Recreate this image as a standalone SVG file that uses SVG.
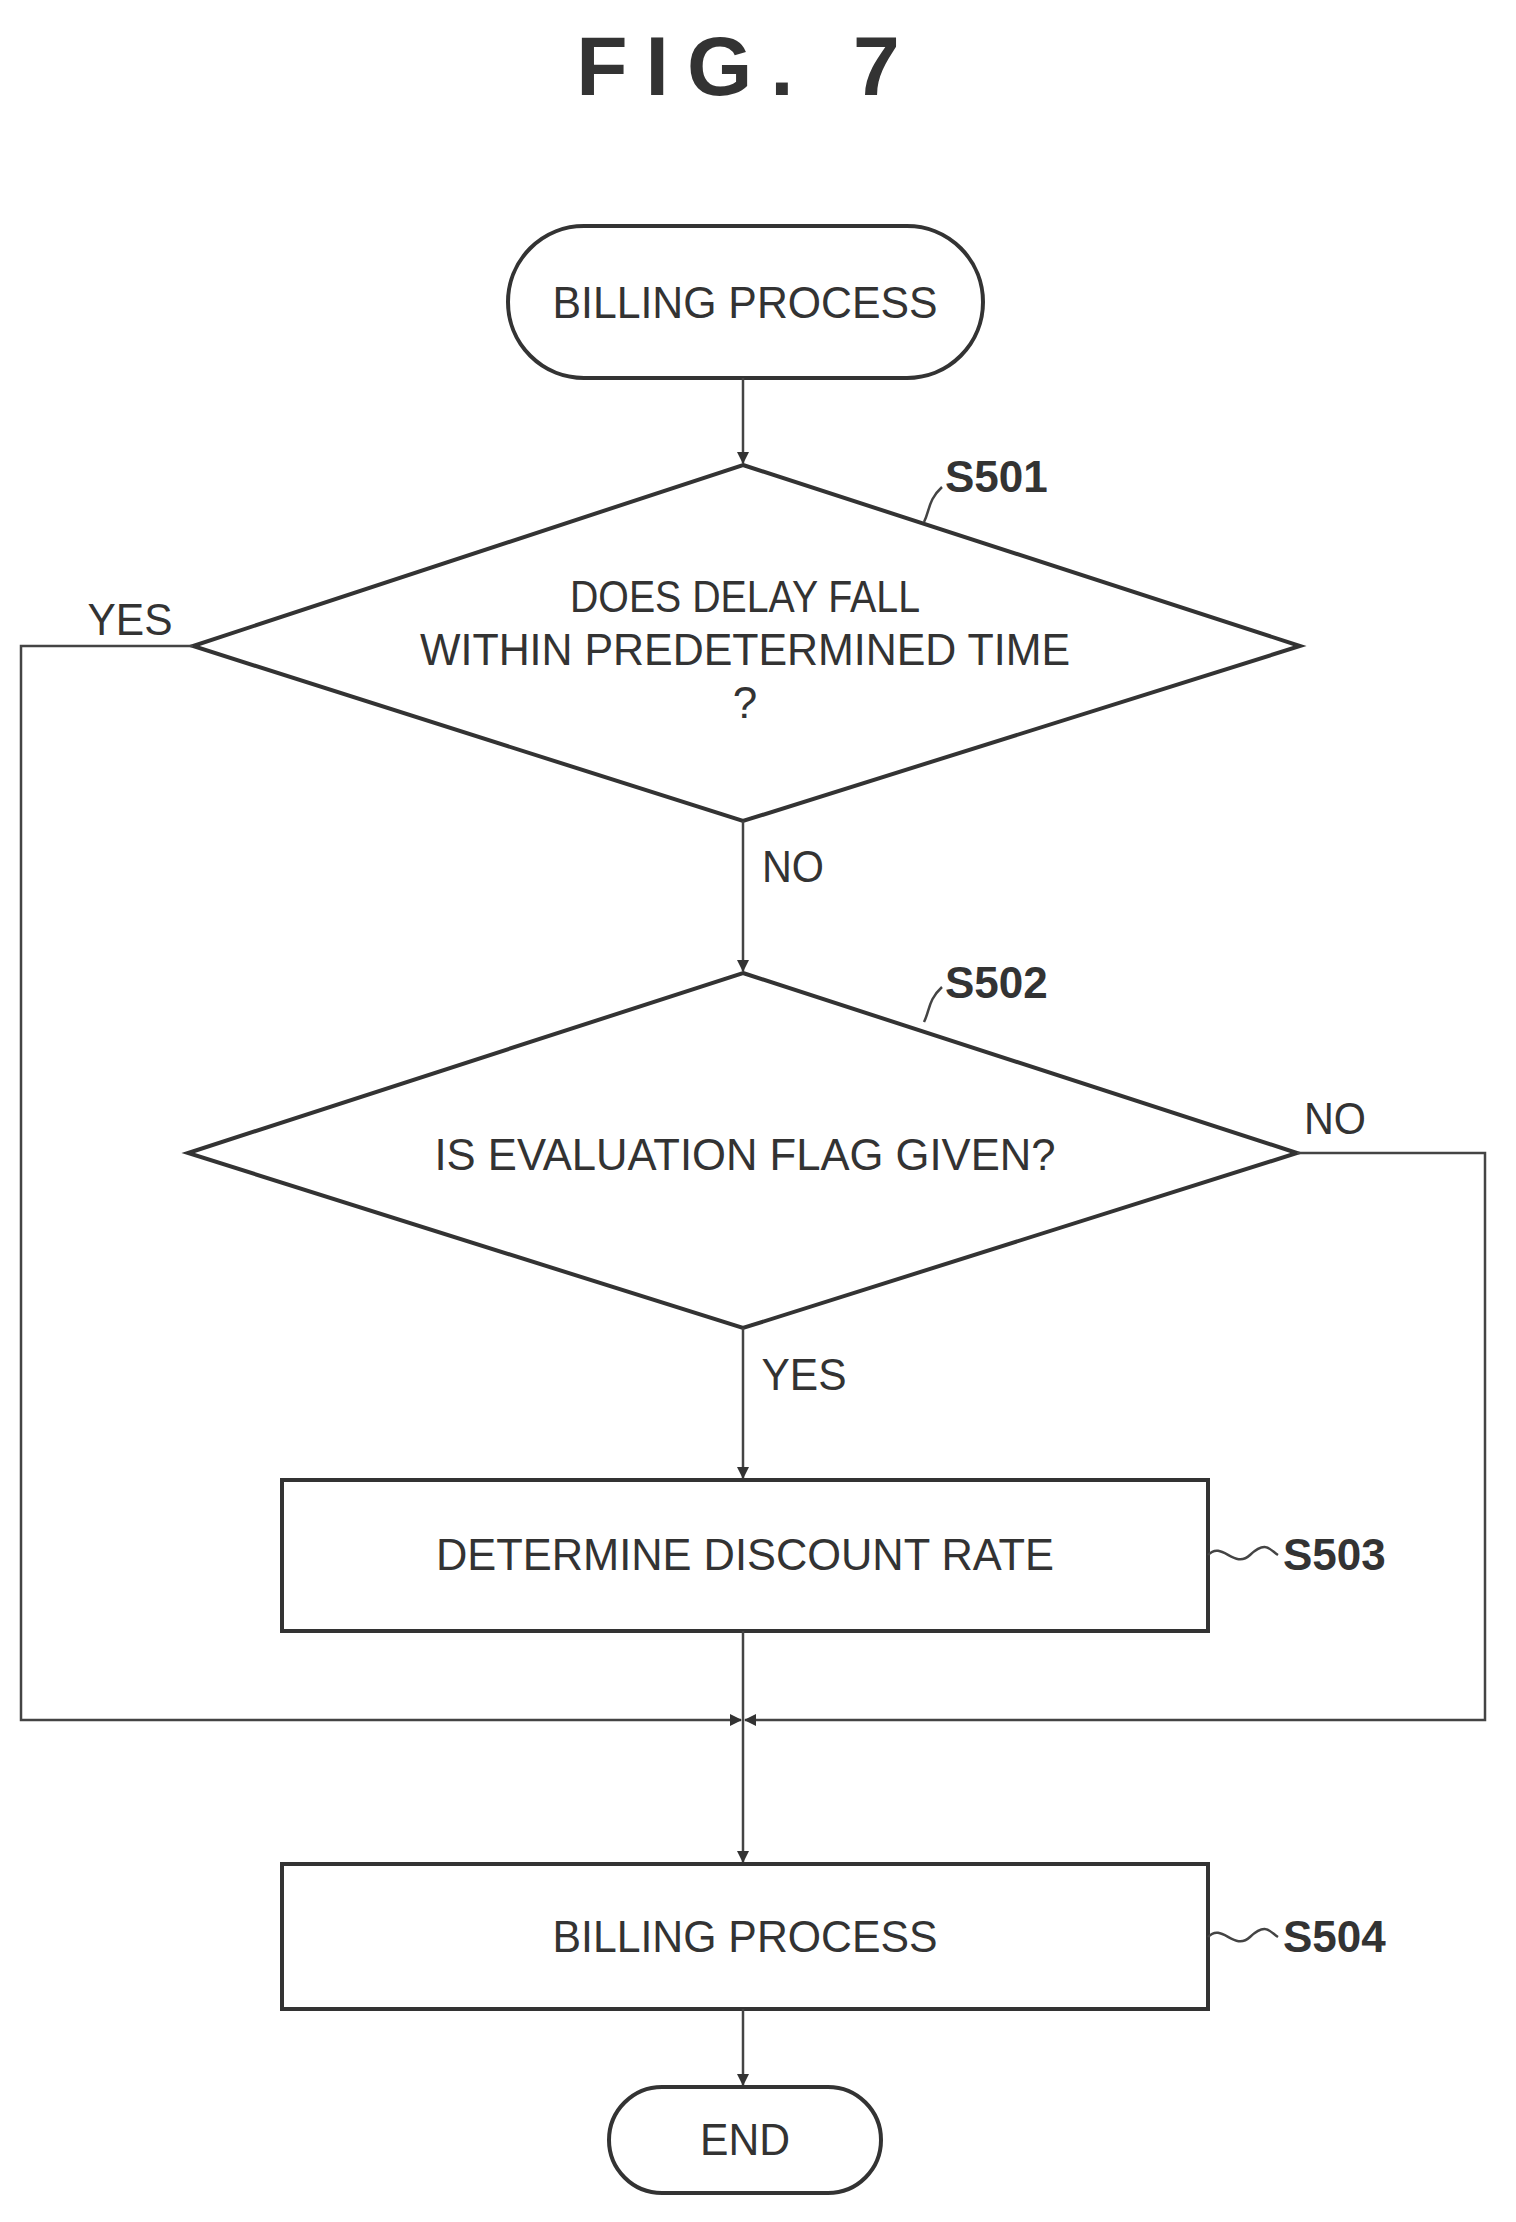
<svg xmlns="http://www.w3.org/2000/svg" width="1516" height="2222" viewBox="0 0 1516 2222">
<style>
.s{fill:none;stroke:#333;stroke-width:4}
.c{fill:none;stroke:#444;stroke-width:2.5}
.t{font-family:"Liberation Sans",Arial,sans-serif;font-size:44px;fill:#333;text-anchor:middle}
.l{font-family:"Liberation Sans",Arial,sans-serif;font-size:44px;font-weight:bold;fill:#333}
</style>
<defs><marker id="a" markerWidth="12" markerHeight="12" refX="11" refY="6" orient="auto" markerUnits="userSpaceOnUse" viewBox="0 0 12 12"><path d="M0,0 L12,6 L0,12 Z" fill="#333"/></marker></defs>
<rect width="1516" height="2222" fill="#fff"/>
<text x="747" y="95" text-anchor="middle" font-family="Liberation Sans,Arial,sans-serif" font-size="84" font-weight="bold" fill="#333" letter-spacing="18">FIG. 7</text>
<g id="start"><rect class="s" x="508" y="226" width="475" height="152" rx="76"/><text class="t" x="745" y="318" textLength="385" lengthAdjust="spacingAndGlyphs">BILLING PROCESS</text></g>
<g id="s501"><polygon class="s" points="743,465 1300,646 743,821 193,646"/>
<text class="t" x="745" y="612" textLength="350" lengthAdjust="spacingAndGlyphs">DOES DELAY FALL</text>
<text class="t" x="745" y="665" textLength="650" lengthAdjust="spacingAndGlyphs">WITHIN PREDETERMINED TIME</text>
<text class="t" x="745" y="718">?</text>
<text class="l" x="945" y="492">S501</text><path class="c" d="M924,522 C930,510 928,500 942,487"/></g>
<g id="s502"><polygon class="s" points="743,973 1297,1153 743,1328 188,1153"/>
<text class="t" x="745" y="1170" textLength="621" lengthAdjust="spacingAndGlyphs">IS EVALUATION FLAG GIVEN?</text>
<text class="l" x="945" y="998">S502</text><path class="c" d="M924,1022 C930,1010 928,1000 942,987"/></g>
<g id="s503"><rect class="s" x="282" y="1480" width="926" height="151"/>
<text class="t" x="745" y="1570" textLength="618" lengthAdjust="spacingAndGlyphs">DETERMINE DISCOUNT RATE</text>
<text class="l" x="1283" y="1570">S503</text><path class="c" d="M1208,1555 C1222,1540 1234,1570 1250,1555 S1270,1550 1278,1555"/></g>
<g id="s504"><rect class="s" x="282" y="1864" width="926" height="145"/>
<text class="t" x="745" y="1952" textLength="385" lengthAdjust="spacingAndGlyphs">BILLING PROCESS</text>
<text class="l" x="1283" y="1952">S504</text><path class="c" d="M1208,1937 C1222,1922 1234,1952 1250,1937 S1270,1932 1278,1937"/></g>
<g id="end"><rect class="s" x="609" y="2087" width="272" height="106" rx="53"/><text class="t" x="745" y="2155" textLength="90" lengthAdjust="spacingAndGlyphs">END</text></g>
<g id="connectors">
<path class="c" d="M743,378 V463" marker-end="url(#a)"/>
<path class="c" d="M743,821 V971" marker-end="url(#a)"/>
<path class="c" d="M743,1328 V1478" marker-end="url(#a)"/>
<path class="c" d="M193,646 H21 V1720 H741" marker-end="url(#a)"/>
<path class="c" d="M1297,1153 H1485 V1720 H745" marker-end="url(#a)"/>
<path class="c" d="M743,1631 V1862" marker-end="url(#a)"/>
<path class="c" d="M743,2009 V2085" marker-end="url(#a)"/>
<text class="t" x="130" y="635" textLength="85" lengthAdjust="spacingAndGlyphs">YES</text>
<text class="t" x="793" y="882" textLength="62" lengthAdjust="spacingAndGlyphs">NO</text>
<text class="t" x="1335" y="1134" textLength="62" lengthAdjust="spacingAndGlyphs">NO</text>
<text class="t" x="804" y="1390" textLength="85" lengthAdjust="spacingAndGlyphs">YES</text>
</g>
</svg>
